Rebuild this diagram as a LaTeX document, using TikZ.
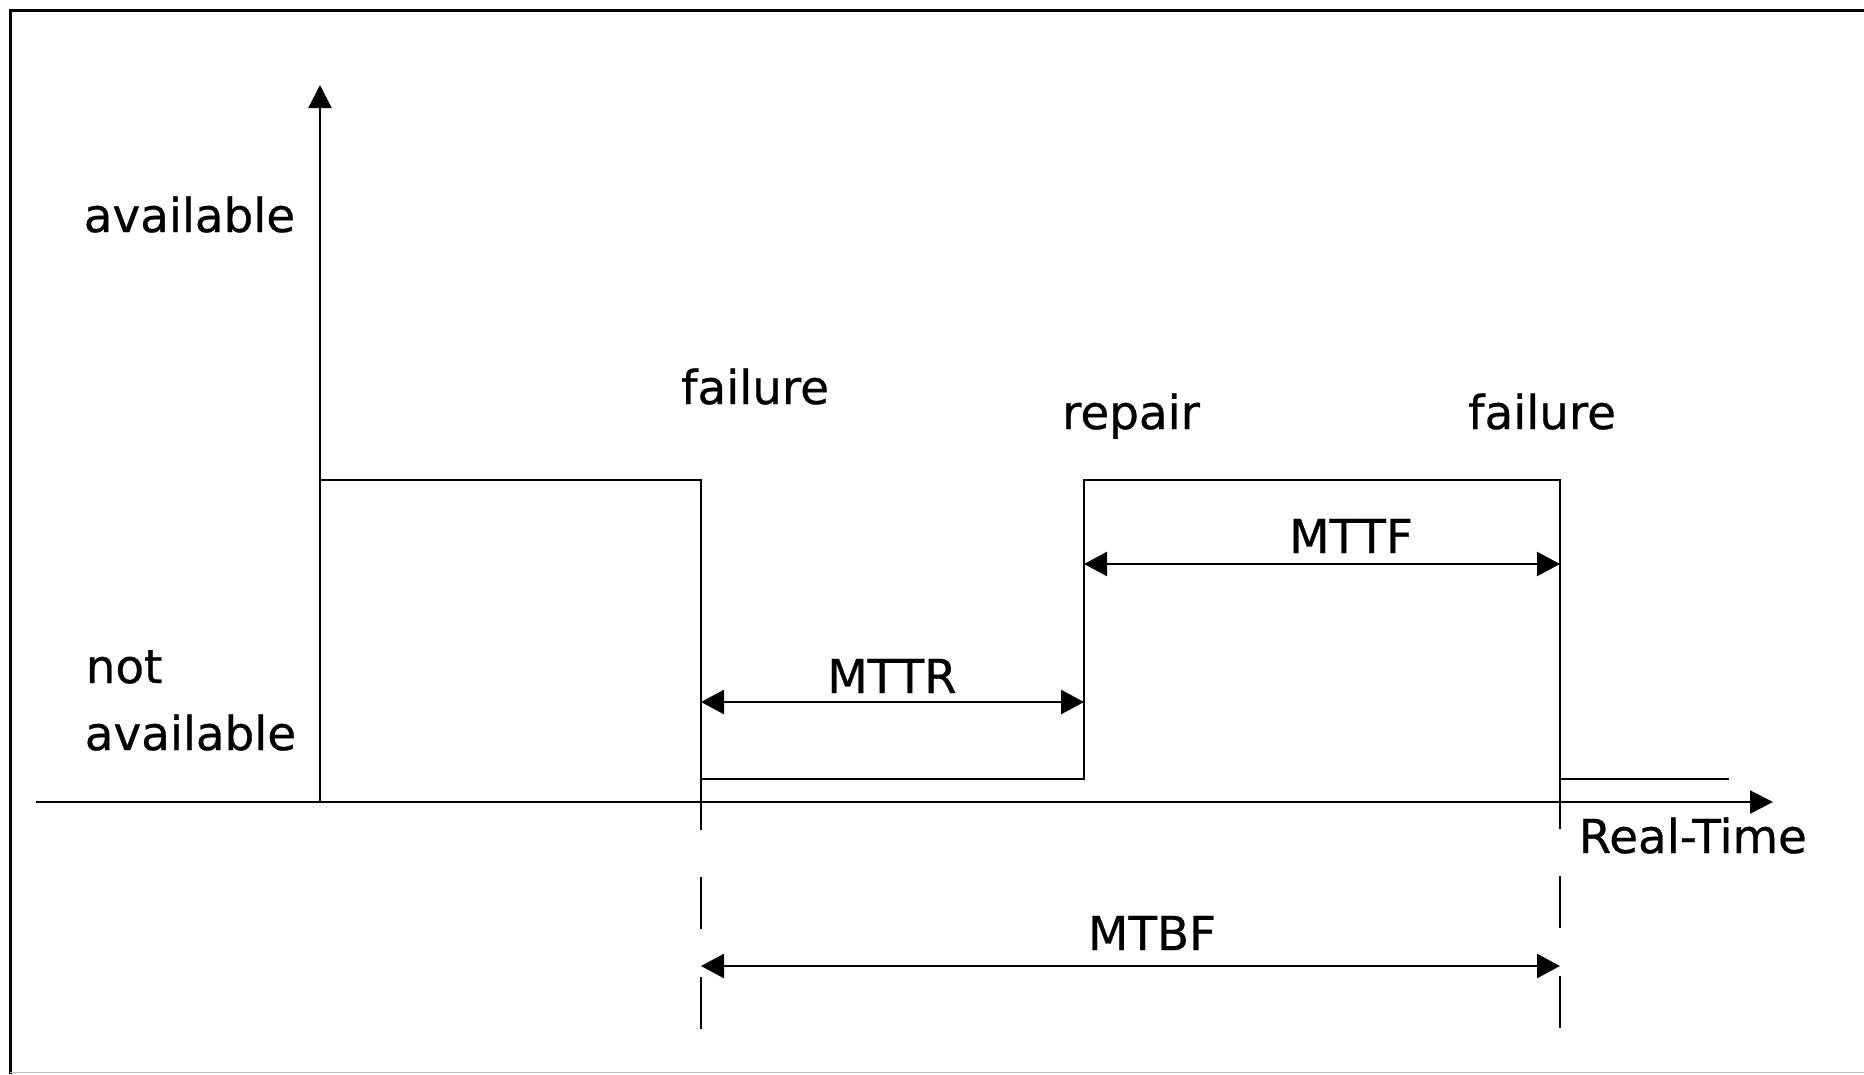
\documentclass[tikz,border=0pt]{standalone}
\usepackage{fontspec}
\setmainfont{DejaVu Sans}[FakeBold=0.6]
\usetikzlibrary{arrows.meta,positioning}

\begin{document}
\begin{tikzpicture}[x=0.25pt, y=-0.25pt, font=\fontsize{11.7}{14}\selectfont,
  sig/.style={line width=0.5pt},
  ax/.style={line width=0.55pt, -{Triangle[length=5.75pt,width=5.75pt]}},
  dim/.style={line width=0.65pt,
              {Triangle[length=5.75pt,width=6pt]}-{Triangle[length=5.75pt,width=6pt]}},
  guide/.style={line width=0.5pt, dash pattern=on 13pt off 12pt, dash phase=13.25pt},
  lbl/.style={inner sep=0pt, anchor=base}]
\useasboundingbox (0,0) rectangle (1864,1074);
% frame
\draw[line width=0.75pt] (10,1074) -- (10,10) -- (1864,10);
\draw[black!25, line width=0.4pt] (10,1072.5) -- (1864,1072.5);
% axes
\coordinate (o) at (320,802);
\coordinate (ytop) at (320,85);
\coordinate (xl) at (36,802);
\coordinate (xr) at (1773,802);
\draw[ax] (o) -- (ytop);
\draw[ax] (xl) -- (xr);
% signal
\coordinate (up0) at (320,480);
\coordinate (f1) at (701,480);
\coordinate (f1lo) at (701,779);
\coordinate (r1lo) at (1084,779);
\coordinate (r1) at (1084,480);
\coordinate (f2) at (1560,480);
\coordinate (f2lo) at (1560,779);
\coordinate (endlo) at (1729,779);
\draw[sig] (o) -- (up0) -- (f1) -- (f1lo) -- (r1lo) -- (r1) -- (f2) -- (f2lo) -- (endlo);
\coordinate (f1b) at (701,830);
\coordinate (f2b) at (1560,829);
\draw[sig] (f1lo) -- (f1b);
\draw[sig] (f2lo) -- (f2b);
\coordinate (f1e) at (701,1030);
\coordinate (f2e) at (1560,1029);
\draw[guide] (f1b) -- (f1e);
\draw[guide] (f2b) -- (f2e);
% intervals
\coordinate (mttrL) at (701,702);
\coordinate (mttrR) at (1084,702);
\coordinate (mttfL) at (1084,564);
\coordinate (mttfR) at (1560,564);
\coordinate (mtbfL) at (701,966);
\coordinate (mtbfR) at (1560,966);
\draw[dim] (mttrL) -- (mttrR);
\draw[dim] (mttfL) -- (mttfR);
\draw[dim] (mtbfL) -- (mtbfR);
% labels
\node[lbl, anchor=base west] (avail) at (83,232) {available};
\node[lbl, anchor=base west] (notav) at (85,683) {not};
\node[lbl, anchor=base west] (notav2) at (84,750) {available};
\node[lbl] (fail1) at (755,404) {failure};
\node[lbl] (rep) at (1131,429) {repair};
\node[lbl] (fail2) at (1542,429) {failure};
\node[lbl] (mttr) at (892,693) {MTTR};
\node[lbl] (mttf) at (1351,553) {MTTF};
\node[lbl] (mtbf) at (1152,950) {MTBF};
\node[lbl, anchor=base west] (rt) at (1578,853) {Real-Time};
\end{tikzpicture}
\end{document}
